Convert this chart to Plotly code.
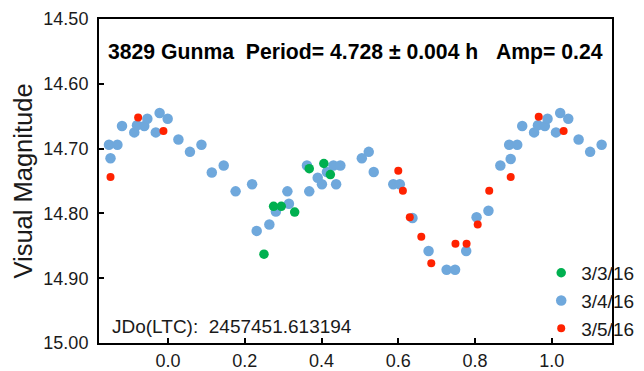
import plotly.graph_objects as go

# ---- data (phase, visual magnitude) ----
blue_phase = [-0.154, -0.132, -0.150, -0.120, -0.088, -0.081, -0.062, -0.054, -0.032, -0.022,
              -0.001, 0.027, 0.057, 0.087, 0.114, 0.145, 0.176, 0.219, 0.231, 0.264,
              0.281, 0.311, 0.315, 0.362, 0.368, 0.390, 0.401, 0.414, 0.431, 0.449,
              0.438, 0.505, 0.523, 0.536, 0.587, 0.604, 0.637, 0.679, 0.726, 0.748,
              0.777, 0.804, 0.835, 0.866, 0.893, 0.889, 0.910, 0.923, 0.954, 0.964,
              0.982, 0.989, 1.011, 1.022, 1.043, 1.070, 1.100, 1.130]
blue_mag = [14.694, 14.694, 14.715, 14.665, 14.675, 14.664, 14.665, 14.654, 14.675, 14.645,
            14.654, 14.686, 14.705, 14.694, 14.737, 14.726, 14.766, 14.755, 14.827, 14.817,
            14.797, 14.766, 14.785, 14.726, 14.766, 14.745, 14.755, 14.736, 14.726, 14.726,
            14.755, 14.715, 14.705, 14.736, 14.755, 14.755, 14.807, 14.858, 14.887, 14.887,
            14.858, 14.806, 14.796, 14.726, 14.716, 14.694, 14.694, 14.665, 14.675, 14.664,
            14.665, 14.654, 14.675, 14.645, 14.654, 14.686, 14.705, 14.694]

red_phase = [-0.150, -0.078, -0.012, 0.600, 0.612, 0.630, 0.660, 0.686, 0.749, 0.778,
             0.807, 0.837, 0.893, 0.966, 1.031]
red_mag = [14.744, 14.652, 14.673, 14.734, 14.765, 14.806, 14.836, 14.877, 14.847, 14.847,
           14.817, 14.765, 14.744, 14.651, 14.673]

green_phase = [0.250, 0.275, 0.295, 0.330, 0.368, 0.406, 0.423]
green_mag = [14.863, 14.789, 14.789, 14.798, 14.731, 14.723, 14.740]

x_ticks = [0.0, 0.2, 0.4, 0.6, 0.8, 1.0]
y_ticks = [14.5, 14.6, 14.7, 14.8, 14.9, 15.0]

FONT = "Liberation Sans, Arial, Helvetica, sans-serif"

fig = go.Figure()
fig.add_trace(go.Scatter(x=blue_phase, y=blue_mag, mode="markers", name="3/4/16",
                         legendrank=2,
                         marker=dict(color="#6fa8dc", size=10.5, line=dict(width=0))))
fig.add_trace(go.Scatter(x=green_phase, y=green_mag, mode="markers", name="3/3/16",
                         legendrank=1,
                         marker=dict(color="#00b050", size=9.5, line=dict(width=0))))
fig.add_trace(go.Scatter(x=red_phase, y=red_mag, mode="markers", name="3/5/16",
                         legendrank=3,
                         marker=dict(color="#ff2200", size=8, line=dict(width=0))))

axis_common = dict(showline=True, linecolor="black", linewidth=2, mirror=True,
                   ticks="inside", ticklen=5, tickwidth=2, tickcolor="black",
                   showgrid=False, zeroline=False,
                   tickfont=dict(family=FONT, size=18, color="#1a1a1a"))

fig.update_xaxes(range=[-0.18, 1.157], tickvals=x_ticks, tickformat=".1f",
                 automargin=False, **axis_common)
fig.update_yaxes(range=[15.0, 14.5], tickvals=y_ticks, tickformat=".2f",
                 automargin=False, ticklabelstandoff=5,
                 title=dict(text="Visual Magnitude", font=dict(family=FONT, size=25.5, color="#1a1a1a"),
                            standoff=3),
                 **axis_common)

nb = "\u00a0"
fig.add_annotation(xref="paper", yref="paper", x=0.013, y=0.897, xanchor="left", yanchor="middle",
                   showarrow=False,
                   text="<b>3829 Gunma" + nb * 2 + "Period= 4.728 ± 0.004 h" + nb * 3 + "Amp= 0.24</b>",
                   font=dict(family=FONT, size=21.2, color="black"))
fig.add_annotation(xref="paper", yref="paper", x=0.022, y=0.05, xanchor="left", yanchor="middle",
                   showarrow=False, text="JDo(LTC):" + nb * 2 + "2457451.613194",
                   font=dict(family=FONT, size=19, color="#1a1a1a"))

fig.update_layout(
    width=644, height=371,
    margin=dict(l=99, r=5, t=19, b=28),
    paper_bgcolor="white", plot_bgcolor="white",
    showlegend=True,
    legend=dict(x=0.862, y=0.275, xanchor="left", yanchor="top",
                bgcolor="rgba(0,0,0,0)", borderwidth=0,
                font=dict(family=FONT, size=19, color="#1a1a1a"),
                itemsizing="trace", tracegroupgap=0),
)

fig.write_html("out.html")
